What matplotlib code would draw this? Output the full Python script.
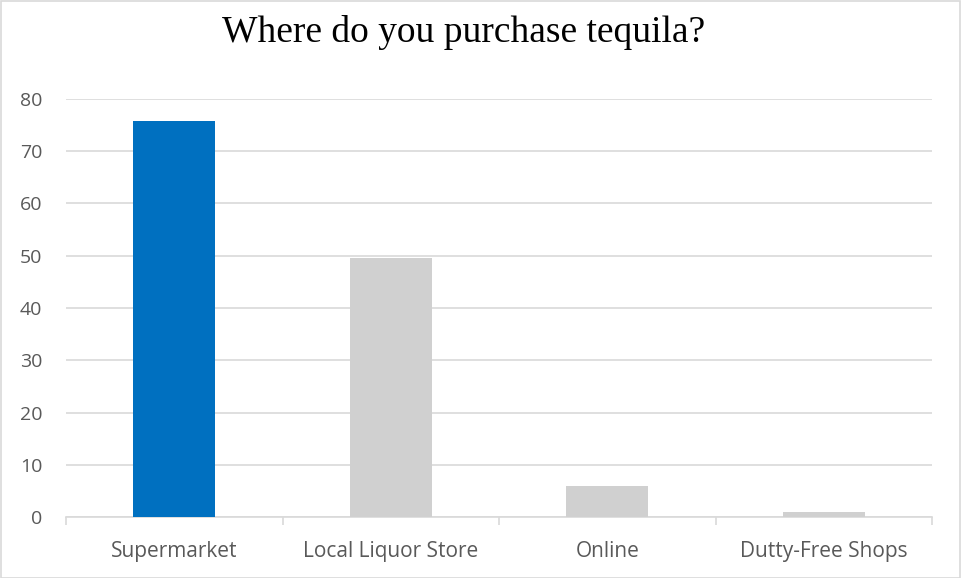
import matplotlib
matplotlib.use("Agg")
import matplotlib.pyplot as plt
from matplotlib.patches import Rectangle

categories = ["Supermarket", "Local Liquor Store", "Online", "Dutty-Free Shops"]
values = [75.7, 49.5, 6.0, 0.9]
bar_colors = ["#0070C0", "#D0D0D0", "#D0D0D0", "#D0D0D0"]
y_ticks = [0, 10, 20, 30, 40, 50, 60, 70, 80]

W, H = 961, 578
fig = plt.figure(figsize=(W / 100, H / 100), dpi=100)
fig.patch.set_facecolor("white")

# thin frame around the whole chart area
fig.add_artist(Rectangle((0.5 / W, 0.5 / H), 1 - 1.5 / W, 1 - 1.5 / H,
                         transform=fig.transFigure, fill=False,
                         edgecolor="#D9D9D9", linewidth=1.2))

left, right = 66 / W, 932 / W
bottom, top = 1 - 517 / H, 1 - 99 / H
ax = fig.add_axes([left, bottom, right - left, top - bottom])

x = list(range(len(categories)))
ax.bar(x, values, width=0.38, color=bar_colors, zorder=3)

ax.set_xlim(-0.5, len(categories) - 0.5)
ax.set_ylim(0, 80)
ax.set_yticks(y_ticks)
ax.set_yticklabels([str(v) for v in y_ticks])
ax.yaxis.grid(True, color="#D9D9D9", linewidth=1.2, zorder=0)
ax.set_axisbelow(True)

for side in ("top", "right", "left"):
    ax.spines[side].set_visible(False)
ax.spines["bottom"].set_color("#D9D9D9")
ax.spines["bottom"].set_linewidth(1.2)

# category labels centred under bars, ticks at category boundaries
ax.set_xticks(x)
ax.set_xticklabels(categories)
ax.tick_params(axis="x", length=0, pad=17, labelsize=15, labelcolor="#595959")
ax.set_xticks([i - 0.5 for i in range(len(categories) + 1)], minor=True)
ax.tick_params(axis="x", which="minor", length=6, color="#D9D9D9", width=1.2)
ax.tick_params(axis="y", length=0, pad=17, labelsize=14, labelcolor="#595959")
for lab in ax.get_xticklabels() + ax.get_yticklabels():
    lab.set_fontfamily("Open Sans")

fig.text(464 / W, 1 - 42 / H, "Where do you purchase tequila?",
         ha="center", va="baseline", fontsize=27,
         fontfamily="Liberation Serif", color="black")

fig.savefig("out.png", dpi=100, facecolor="white")
